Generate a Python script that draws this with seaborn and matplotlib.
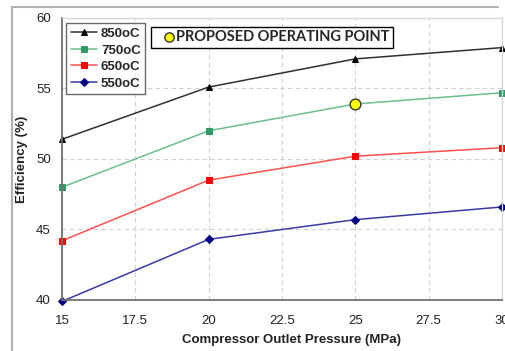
import matplotlib
matplotlib.use("Agg")
import matplotlib.pyplot as plt
import seaborn as sns
import pandas as pd
from matplotlib.lines import Line2D

# data
pressure = [15, 20, 25, 30]
eff_850 = [51.4, 55.1, 57.1, 57.9]
eff_750 = [48.0, 52.0, 53.9, 54.7]
eff_650 = [44.2, 48.5, 50.2, 50.8]
eff_550 = [39.9, 44.3, 45.7, 46.6]
series_names = ["850oC", "750oC", "650oC", "550oC"]
op_point_x = [25]
op_point_y = [53.9]
x_ticks = [15, 17.5, 20, 22.5, 25, 27.5, 30]
x_tick_labels = ["15", "17.5", "20", "22.5", "25", "27.5", "30"]
y_ticks = [40, 45, 50, 55, 60]

sns.set_style("white")
plt.rcParams["font.family"] = ["Liberation Sans", "DejaVu Sans"]

fig = plt.figure(figsize=(5.06, 3.51), dpi=100)
ax = fig.add_axes([62 / 506, 1 - 300 / 351, 440 / 506, 282 / 351])

# outer chart-area border
fig.add_artist(Line2D([12 / 506, 498 / 506], [1 - 7 / 351, 1 - 7 / 351],
                      transform=fig.transFigure, color="#b0b0b0", lw=1.5))
fig.add_artist(Line2D([12 / 506, 12 / 506], [0, 1 - 7 / 351],
                      transform=fig.transFigure, color="#b0b0b0", lw=1.5))

df = pd.DataFrame({
    "pressure": pressure * 4,
    "eff": eff_850 + eff_750 + eff_650 + eff_550,
    "series": sum([[n] * len(pressure) for n in series_names], []),
})

line_colors = ["#303030", "#6cbf8c", "#ff5050", "#3a3aa0"]
marker_colors = ["#000000", "#339966", "#ff0000", "#000080"]
markers = ["^", "s", "s", "D"]
msizes = [5, 5, 5, 4]

for name, lc, mc, mk, ms in zip(series_names, line_colors, marker_colors, markers, msizes):
    sub = df[df["series"] == name]
    sns.lineplot(data=sub, x="pressure", y="eff", ax=ax, color=lc, lw=1.1,
                 marker=mk, markersize=ms, markerfacecolor=mc, markeredgecolor=mc,
                 label=name, legend=False, clip_on=False)

sns.scatterplot(x=op_point_x, y=op_point_y, ax=ax, s=60, color="#ffff00",
                edgecolor="#333333", linewidth=1, zorder=5)

ax.set_xlim(15, 30)
ax.set_ylim(40, 60)
ax.set_xticks(x_ticks)
ax.set_xticklabels(x_tick_labels)
ax.set_yticks(y_ticks)
ax.grid(True, color="#d0d0d0", ls=(0, (4, 3)), lw=0.8)
ax.tick_params(axis="both", direction="out", length=4, width=1, color="#707070",
               labelsize=9.5, labelcolor="#222222", pad=4)
ax.tick_params(axis="x", pad=7)

for side in ["left", "bottom"]:
    ax.spines[side].set_color("#707070")
    ax.spines[side].set_linewidth(1.3)
for side in ["top", "right"]:
    ax.spines[side].set_color("#d8d8d8")
    ax.spines[side].set_linewidth(1)

ax.set_xlabel("Compressor Outlet Pressure (MPa)", fontsize=9.5, fontweight="bold",
              color="#222222")
ax.xaxis.set_label_coords(0.522, -0.12)
ax.set_ylabel("Efficiency (%)", fontsize=9.5, fontweight="bold", color="#222222")
ax.yaxis.set_label_coords(-0.077, 0.5)

leg = ax.legend(loc="upper left", bbox_to_anchor=(0.009, 0.982),
                prop={"weight": "bold", "size": 9.5}, frameon=True, fancybox=False,
                edgecolor="#444444", handlelength=2.0, handletextpad=0.3,
                labelspacing=0.33, borderpad=0.35, borderaxespad=0)
leg.get_frame().set_linewidth(1)

# annotation box with the operating point marker
ax.text(0.211, 0.931, "      PROPOSED OPERATING POINT", transform=ax.transAxes,
        fontsize=10.5, fontweight="bold", family=["Lato", "DejaVu Sans"],
        va="center", ha="left",
        bbox=dict(boxstyle="square,pad=0.25", fc="white", ec="black", lw=1))
ax.scatter([0.243], [0.931], transform=ax.transAxes, s=45, color="#ffff00",
           edgecolor="#333333", linewidth=1, zorder=10)

fig.savefig("out.png", dpi=100)
